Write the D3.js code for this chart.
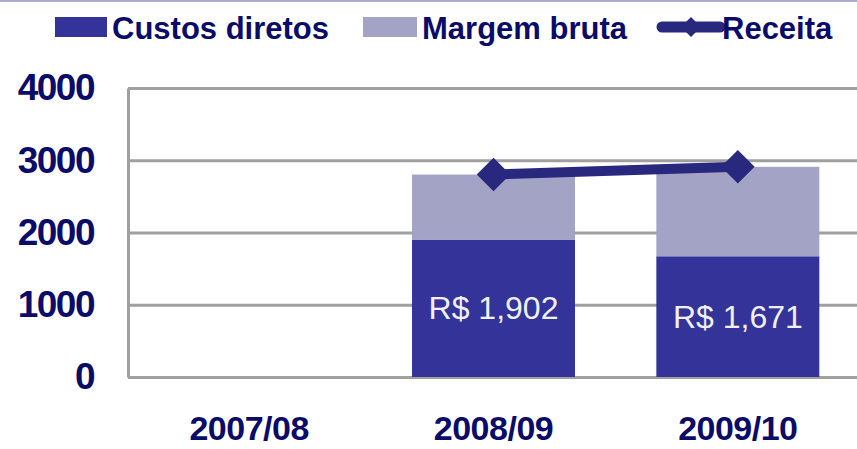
<!DOCTYPE html>
<html>
<head>
<meta charset="utf-8">
<script src="https://cdn.jsdelivr.net/npm/d3@7"></script>
<style>
  body { margin: 0; background: #fff; }
  svg { display: block; font-family: "Liberation Sans", Arial, sans-serif; }
</style>
</head>
<body>
<div id="root"></div>
<script>
// data
var categories = ["2007/08", "2008/09", "2009/10"];
var custos = [null, 1902, 1671];
var margem = [null, 900, 1238];
var receita = [null, 2802, 2909];
var yTicks = [0, 1000, 2000, 3000, 4000];
var custosLabels = [null, "R$ 1,902", "R$ 1,671"];

var W = 857, H = 449;
var navy = "#0b0b69", cBlue = "#343399", cLav = "#a3a3c5", cLine = "#28287e", grid = "#a0a0a0";

var svg = d3.select("#root").append("svg")
  .attr("width", W).attr("height", H);

// thin line along the top edge
svg.append("line").attr("x1", 0).attr("x2", W).attr("y1", 1).attr("y2", 1)
  .attr("stroke", "#a9a9cf").attr("stroke-width", 2);

var x = d3.scaleBand().domain(categories)
  .range([127, 860]).paddingInner(0.333).paddingOuter(0.1665);
var y = d3.scaleLinear().domain([0, 4000]).range([377, 88]);

// y axis + gridlines
var yAxis = d3.axisLeft(y).tickValues(yTicks).tickFormat(d3.format("d"))
  .tickSize(-(860 - 128)).tickSizeOuter(0).tickPadding(34);
var gy = svg.append("g").attr("transform", "translate(128,0)").call(yAxis);
gy.select(".domain").attr("stroke", grid).attr("stroke-width", 3);
gy.selectAll(".tick line").attr("stroke", grid).attr("stroke-width", 3);
gy.selectAll(".tick text")
  .attr("fill", navy).attr("font-size", 37).attr("font-weight", "bold")
  .attr("font-family", "Liberation Sans, Arial, sans-serif")
  .attr("letter-spacing", -1.5);

// category labels
svg.append("g").selectAll("text").data(categories).join("text")
  .attr("x", d => x(d) + x.bandwidth() / 2)
  .attr("y", 440)
  .attr("text-anchor", "middle")
  .attr("fill", navy).attr("font-size", 34).attr("font-weight", "bold")
  .attr("letter-spacing", -0.5)
  .text(d => d);

var rows = categories.map((c, i) => ({ cat: c, custos: custos[i], margem: margem[i], receita: receita[i], label: custosLabels[i] }))
  .filter(d => d.custos != null);

// stacked bars
var bars = svg.append("g");
bars.selectAll("rect.custos").data(rows).join("rect").attr("class", "custos")
  .attr("x", d => x(d.cat)).attr("width", x.bandwidth())
  .attr("y", d => y(d.custos)).attr("height", d => y(0) - y(d.custos))
  .attr("fill", cBlue);
bars.selectAll("rect.margem").data(rows).join("rect").attr("class", "margem")
  .attr("x", d => x(d.cat)).attr("width", x.bandwidth())
  .attr("y", d => y(d.custos + d.margem)).attr("height", d => y(d.custos) - y(d.custos + d.margem))
  .attr("fill", cLav);

// value labels inside custos bars
bars.selectAll("text").data(rows).join("text")
  .attr("x", d => x(d.cat) + x.bandwidth() / 2)
  .attr("y", d => (y(0) + y(d.custos)) / 2)
  .attr("dy", "0.35em")
  .attr("text-anchor", "middle")
  .attr("fill", "#f0f0f0").attr("font-size", 32)
  .text(d => d.label);

// receita line
var line = d3.line().x(d => x(d.cat) + x.bandwidth() / 2).y(d => y(d.receita));
svg.append("path").datum(rows).attr("d", line)
  .attr("fill", "none").attr("stroke", cLine).attr("stroke-width", 10);
svg.append("g").selectAll("path").data(rows).join("path")
  .attr("d", d3.symbol(d3.symbolSquare, 560))
  .attr("transform", d => "translate(" + (x(d.cat) + x.bandwidth() / 2) + "," + y(d.receita) + ") rotate(45)")
  .attr("fill", cLine);

// legend
var lg = svg.append("g").attr("font-size", 31).attr("font-weight", "bold").attr("fill", navy);
lg.append("rect").attr("x", 55).attr("y", 17).attr("width", 52).attr("height", 20).attr("fill", cBlue);
lg.append("text").attr("x", 112).attr("y", 39).text("Custos diretos");
lg.append("rect").attr("x", 363).attr("y", 17).attr("width", 54).attr("height", 20).attr("fill", cLav);
lg.append("text").attr("x", 422).attr("y", 39).text("Margem bruta");
lg.append("line").attr("x1", 662).attr("x2", 720).attr("y1", 27).attr("y2", 27)
  .attr("stroke", cLine).attr("stroke-width", 11).attr("stroke-linecap", "round");
lg.append("path").attr("d", d3.symbol(d3.symbolSquare, 200))
  .attr("transform", "translate(691,27) rotate(45)").attr("fill", cLine);
lg.append("text").attr("x", 722).attr("y", 39).text("Receita");
</script>
</body>
</html>
